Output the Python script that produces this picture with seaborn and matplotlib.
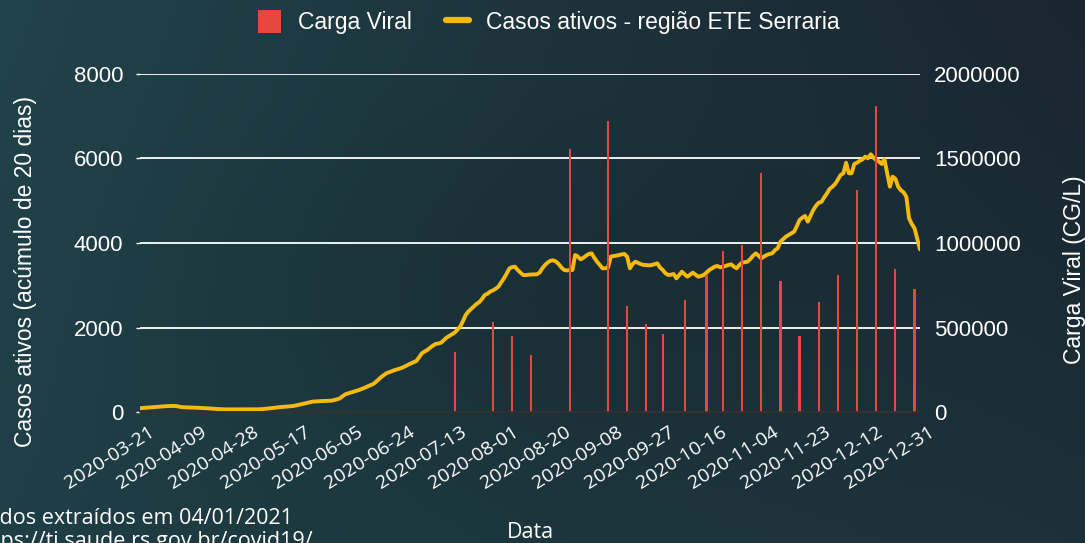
import numpy as np
import pandas as pd
import matplotlib
matplotlib.use("Agg")
import matplotlib.pyplot as plt
import matplotlib.colors as mcolors
from matplotlib.patches import Patch
from matplotlib.lines import Line2D
from matplotlib.transforms import ScaledTranslation
import seaborn as sns

# ---------------- data ----------------
start_date = "2020-03-21"
end_date = "2020-12-31"

casos_ativos = [
    # 03-21 .. 04-10
    90, 95, 100, 105, 110, 115, 120, 125, 130, 135, 140, 142, 143, 142, 130, 118, 112, 110, 108, 105, 102,
    # 04-11 .. 04-30
    100, 97, 94, 90, 85, 80, 76, 72, 68, 65, 63, 62, 62, 61, 60, 60, 60, 61, 61, 62,
    # 05-01 .. 05-19
    62, 63, 64, 66, 70, 76, 84, 92, 100, 108, 114, 120, 125, 130, 136, 142, 155, 170, 185,
    # 05-20 .. 05-30
    200, 215, 230, 245, 250, 255, 258, 260, 262, 265, 268,
    285, 300, 323, 370, 418, 440, 460, 480, 500, 520,
    545, 570, 600, 630, 655, 700, 760, 820, 870, 915,
    940, 965, 990, 1010, 1030, 1055, 1085, 1120, 1150, 1180,
    1207, 1300, 1390, 1430, 1470, 1520, 1570, 1610, 1620, 1640,
    1700, 1760, 1800, 1840, 1880, 1950, 2020, 2150, 2296, 2380,
    2440, 2500, 2560, 2600, 2680, 2770, 2800, 2850, 2880, 2920,
    2970, 3070, 3165, 3280, 3401, 3430, 3439, 3361, 3300, 3243,
    3240, 3250, 3255, 3258, 3258, 3300, 3401, 3480, 3540, 3581,
    3590, 3560, 3500, 3420, 3361, 3350, 3360, 3361, 3716, 3680,
    3613, 3650, 3700, 3740, 3755, 3650, 3558, 3480, 3401, 3401,
    3420, 3676, 3690, 3700, 3716, 3730, 3740, 3676, 3401, 3500,
    3558, 3530, 3500, 3480, 3479, 3470, 3479, 3500, 3519, 3420,
    3361, 3282, 3243, 3250, 3266, 3164, 3240, 3321, 3260, 3203,
    3250, 3298, 3250, 3203, 3220, 3243, 3300, 3361, 3400, 3440,
    3456, 3424, 3440, 3456, 3480, 3495, 3440, 3401, 3480, 3534,
    3545, 3558, 3620, 3700, 3755, 3700, 3637, 3680, 3716, 3740,
    3755, 3830, 3874, 4031, 4090, 4150, 4190, 4230, 4268, 4400,
    4545, 4600, 4640, 4505, 4640, 4781, 4880, 4955, 4973, 5080,
    5176, 5280, 5333, 5397, 5500, 5610, 5650, 5901, 5650, 5650,
    5870, 5900, 5948, 5980, 6043, 6005, 6100, 6020, 5965, 5930,
    5870, 5980, 5650, 5333, 5570, 5520, 5333, 5250, 5200, 5097,
    4585, 4450, 4348, 4100, 3850,
]

datas_carga = [
    "2020-07-14", "2020-07-28", "2020-08-04", "2020-08-11", "2020-08-25",
    "2020-09-08", "2020-09-15", "2020-09-22", "2020-09-28", "2020-10-06",
    "2020-10-14", "2020-10-20", "2020-10-27", "2020-11-03", "2020-11-10",
    "2020-11-17", "2020-11-24", "2020-12-01", "2020-12-08", "2020-12-15",
    "2020-12-22", "2020-12-29",
]
carga_viral = [
    357000, 531000, 452000, 335000, 1556000,
    1720000, 625000, 519000, 461000, 661000,
    811000, 951000, 990000, 1416000, 777000,
    452000, 649000, 811000, 1314000, 1812000,
    846000, 730000,
]

legend_labels = ["Carga Viral", "Casos ativos - região ETE Serraria"]
ylabel_left = "Casos ativos (acúmulo de 20 dias)"
ylabel_right = "Carga Viral (CG/L)"
xlabel = "Data"
nota_1 = "Dados extraídos em 04/01/2021"
nota_2 = "https://ti.saude.rs.gov.br/covid19/"

# ---------------- style ----------------
RED = "#e8473b"
YEL = "#f4bb0e"
sns.set_style("white")
plt.rcParams["font.family"] = ["Liberation Sans", "DejaVu Sans"]
XFONT = ["Open Sans", "DejaVu Sans"]

df_casos = pd.DataFrame({
    "data": pd.date_range(start_date, periods=len(casos_ativos), freq="D"),
    "casos": casos_ativos,
})
df_carga = pd.DataFrame({"data": pd.to_datetime(datas_carga), "carga": carga_viral})
tick_dates = pd.date_range(start_date, end_date, freq="19D")

fig = plt.figure(figsize=(10.85, 5.43), dpi=100)

# background gradient
bg = fig.add_axes([0, 0, 1, 1], zorder=-10)
tl = np.array(mcolors.to_rgb("#21434a"))
tr = np.array(mcolors.to_rgb("#1a2530"))
bl = np.array(mcolors.to_rgb("#1f3e45"))
br = np.array(mcolors.to_rgb("#1c3139"))
u = np.linspace(0, 1, 200)[None, :, None]
v = np.linspace(0, 1, 100)[:, None, None]
img = (1 - v) * ((1 - u) * tl + u * tr) + v * ((1 - u) * bl + u * br)
mid = np.exp(-(((u - 0.5) / 0.3) ** 2 + ((v - 0.55) / 0.35) ** 2))
img = img * (1 - 0.12 * mid)
bg.imshow(img, aspect="auto", extent=[0, 1, 0, 1], origin="upper")
bg.axis("off")

ax = fig.add_axes([140 / 1085, 1 - 412 / 543, 780 / 1085, 338 / 543])
ax.set_facecolor("none")
sns.lineplot(data=df_casos, x="data", y="casos", ax=ax, color=YEL, lw=2.8, zorder=3)

ax2 = ax.twinx()
ax2.bar(df_carga["data"], df_carga["carga"], width=0.8, color=RED,
        edgecolor="none", linewidth=0, zorder=2)

ax.set_xlim(pd.Timestamp(start_date), pd.Timestamp(end_date))
ax.set_ylim(0, 8000)
ax2.set_ylim(0, 2000000)
ax.set_yticks([0, 2000, 4000, 6000, 8000])
ax2.set_yticks([0, 500000, 1000000, 1500000, 2000000])
ax2.set_yticklabels(["0", "500000", "1000000", "1500000", "2000000"])

ax.yaxis.grid(True, color="white", lw=1.3)
ax.yaxis.get_gridlines()[0].set_visible(False)
ax.xaxis.grid(False)
ax2.grid(False)

for a in (ax, ax2):
    for s in ("top", "left", "right", "bottom"):
        a.spines[s].set_visible(False)
ax2.spines["bottom"].set_visible(True)
ax2.spines["bottom"].set_color("#3b302c")
ax2.spines["bottom"].set_linewidth(1.2)

ax.tick_params(axis="y", colors="white", labelsize=16, length=3, width=1, pad=9)
ax2.tick_params(axis="y", colors="white", labelsize=16, length=0, pad=10)
ax.set_xticks(tick_dates)
ax.set_xticklabels([d.strftime("%Y-%m-%d") for d in tick_dates], rotation=32,
                   ha="right", va="top", rotation_mode="anchor",
                   fontsize=14, family=XFONT, color="white")
ax.tick_params(axis="x", length=0, pad=8)
off = ScaledTranslation(8 / 100, 0, fig.dpi_scale_trans)
for lbl in ax.get_xticklabels():
    lbl.set_transform(lbl.get_transform() + off)

ax.set_xlabel("")
ax.set_ylabel(ylabel_left, color="white", fontsize=16.5)
ax.yaxis.set_label_coords(-0.132, 0.415)
ax2.set_ylabel(ylabel_right, color="white", fontsize=16.5)
ax2.yaxis.set_label_coords(1.183, 0.42)

fig.text(530 / 1085, 1 - 532 / 543, xlabel, color="white", fontsize=15.5,
         family=XFONT, ha="center", va="center")
fig.text(-28 / 1085, 1 - 518 / 543, nota_1, color="white", fontsize=15.5,
         family=XFONT, ha="left", va="center")
fig.text(-28 / 1085, 1 - 542 / 543, nota_2, color="white", fontsize=15.5,
         family=XFONT, ha="left", va="center")

handles = [Patch(facecolor=RED, edgecolor="none"),
           Line2D([0], [0], color=YEL, lw=4.5)]
fig.legend(handles, legend_labels, loc="center", bbox_to_anchor=(549 / 1085, 1 - 22 / 543),
           ncol=2, frameon=False, fontsize=16.5, labelcolor="white",
           handlelength=1.0, handleheight=1.2, handletextpad=0.75, columnspacing=1.5)

fig.savefig("out.png", dpi=100, facecolor=fig.get_facecolor())
